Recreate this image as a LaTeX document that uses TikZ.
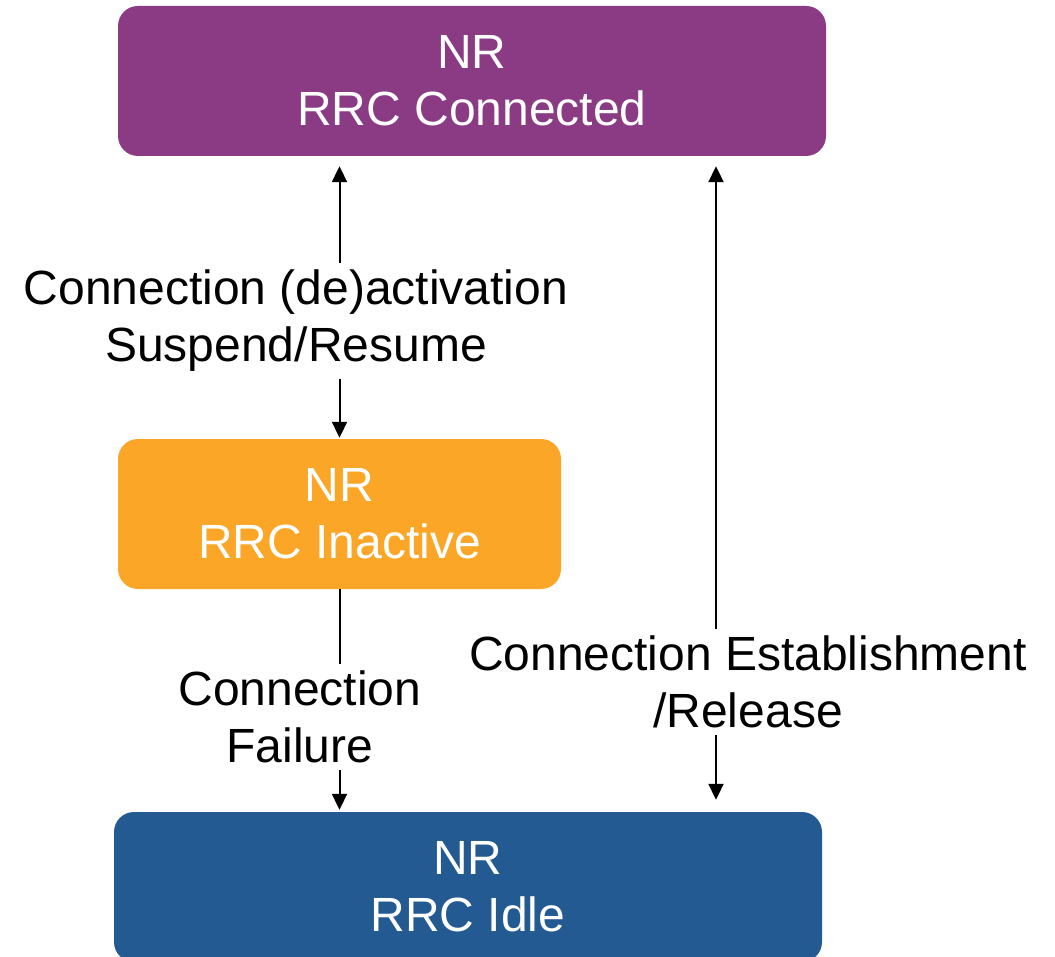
\documentclass[tikz,border=0pt]{standalone}
\usepackage{fontspec}
\setmainfont{Liberation Sans}
\usepackage{xcolor}
\usetikzlibrary{arrows.meta}

\definecolor{nrpurple}{HTML}{8B3A84}
\definecolor{nrorange}{HTML}{FCA628}
\definecolor{nrblue}{HTML}{245A92}

\begin{document}
\begin{tikzpicture}[x=1pt, y=-1pt,
    state/.style={rounded corners=20pt, text=white, align=center,
        minimum height=150pt, inner sep=0pt,
        font=\fontsize{48}{57}\selectfont},
    trans/.style={fill=white, align=center, inner xsep=0pt, inner ysep=7pt,
        font=\fontsize{48}{57}\selectfont},
    arr/.style={line width=2pt, -{Triangle[length=16pt,width=15pt]}}]
    \useasboundingbox (0,0) rectangle (1055,957);
    \clip (0,0) rectangle (1055,957);

    \node[state, fill=nrpurple, minimum width=708pt] at (472,81) (connected) {NR\\RRC Connected};
    \node[state, fill=nrorange, minimum width=443pt] at (339.5,514) (inactive) {NR\\RRC Inactive};
    \node[state, fill=nrblue, minimum width=708pt] at (468,887) (idle) {NR\\RRC Idle};

    \coordinate (rline) at (716,0);

    \node[trans] at (296,321) (lblsusp) {Connection (de)activation\\Suspend/Resume};
    \node[trans] at (300,717) (lblfail) {Connection\\Failure};
    \node[trans] at (748,682) (lblest) {Connection Establishment\\/Release};

    % connected <-> inactive
    \draw[arr, shorten >=10pt] (lblsusp.north -| inactive) -- (connected.south -| inactive);
    \draw[arr, shorten >=1pt] (lblsusp.south -| inactive) -- (inactive.north);

    % inactive -> idle
    \draw[line width=2pt] (inactive.south) -- (lblfail.north -| inactive);
    \draw[arr, shorten >=2pt] (lblfail.south -| inactive) -- (idle.north -| inactive);

    % connected <-> idle
    \draw[arr, shorten >=10pt] (lblest.north -| rline) -- (connected.south -| rline);
    \draw[arr, shorten >=12pt] (lblest.south -| rline) -- (idle.north -| rline);
\end{tikzpicture}
\end{document}
